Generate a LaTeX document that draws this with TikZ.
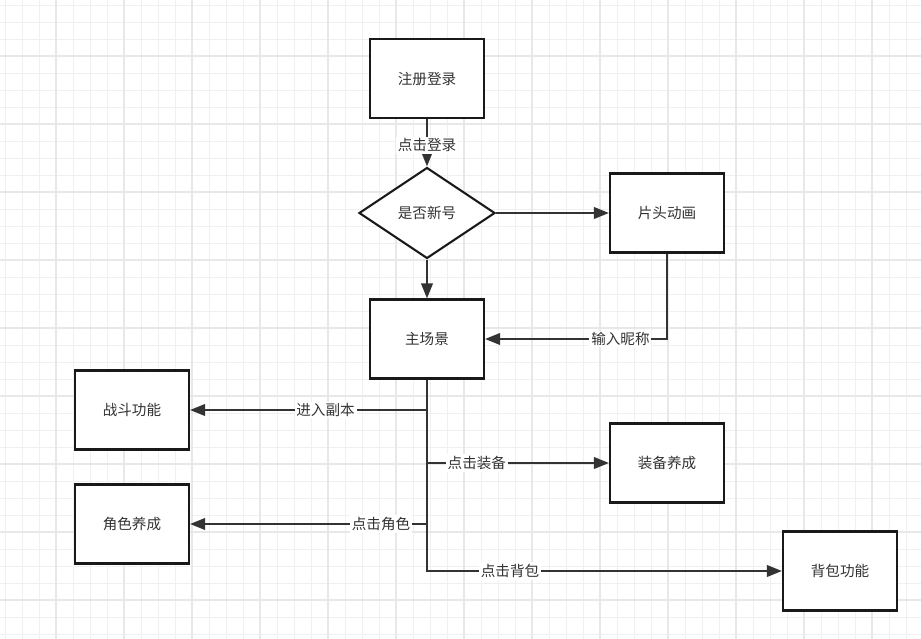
\documentclass[tikz,border=0pt]{standalone}
\usepackage{fontspec}
\newfontfamily\cjk{Noto Sans CJK SC}
\usetikzlibrary{shapes.geometric,arrows.meta,positioning}
\definecolor{inkgray}{HTML}{333333}
\definecolor{gridminor}{HTML}{F0F0F0}
\definecolor{gridmajor}{HTML}{E8E8E8}

\begin{document}
\begin{tikzpicture}[x=0.02cm, y=-0.02cm,
    block/.style={rectangle, draw=black!90, line width=1.2pt, fill=white, minimum width=2.28cm,
                  minimum height=1.58cm, inner sep=2pt, font=\cjk\fontsize{8.3}{10}\selectfont, text=inkgray},
    decision/.style={diamond, draw=black!90, line width=1.2pt, fill=white, minimum width=2.72cm,
                  minimum height=1.82cm, inner sep=0pt, font=\cjk\fontsize{8.3}{10}\selectfont, text=inkgray},
    flow/.style={draw=inkgray, line width=1.2pt, -{Triangle[length=0.3cm,width=0.23cm]}},
    tag/.style={fill=white, inner sep=1pt, font=\cjk\fontsize{8.3}{10}\selectfont, text=inkgray}
]
    % Background grid
    \useasboundingbox (0,0) rectangle (921,639);
    \fill[white] (0,0) rectangle (921,639);
    \foreach \x in {5,22,...,906} {
        \draw[gridminor, line width=0.5pt] (\x,0) -- (\x,639);
    }
    \foreach \y in {5,22,...,634} {
        \draw[gridminor, line width=0.5pt] (0,\y) -- (921,\y);
    }
    \foreach \x in {56,124,...,872} {
        \draw[gridmajor, line width=0.6pt] (\x,0) -- (\x,639);
    }
    \foreach \y in {56,124,...,600} {
        \draw[gridmajor, line width=0.6pt] (0,\y) -- (921,\y);
    }

    % Nodes
    \node[block] (login) at (427,78.5) {注册登录};
    \node[decision] (isnew) at (427,213) {是否新号};
    \node[block] (intro) at (667,213) {片头动画};
    \node[block] (main) at (427,339) {主场景};
    \node[block] (fight) at (132,410) {战斗功能};
    \node[block] (equip) at (667,463) {装备养成};
    \node[block] (role) at (132,524) {角色养成};
    \node[block] (bag) at (840,571) {背包功能};

    % Connectors
    \draw[flow] (login.south) -- node[tag, pos=0.55] {点击登录} (isnew.north);
    \draw[flow] (isnew.east) -- (intro.west);
    \draw[flow] (isnew.south) -- (main.north);
    \draw[flow] (intro.south) |- node[tag, pos=0.628] {输入昵称} (main.east);
    \draw[flow] (main.south) |- node[tag, pos=0.714] {进入副本} (fight.east);
    \draw[flow] (main.south) |- node[tag, pos=0.637] {点击装备} (equip.west);
    \draw[flow] (main.south) |- node[tag, pos=0.597] {点击角色} (role.east);
    \draw[flow] (main.south) |- node[tag, pos=0.617] {点击背包} (bag.west);
\end{tikzpicture}
\end{document}
